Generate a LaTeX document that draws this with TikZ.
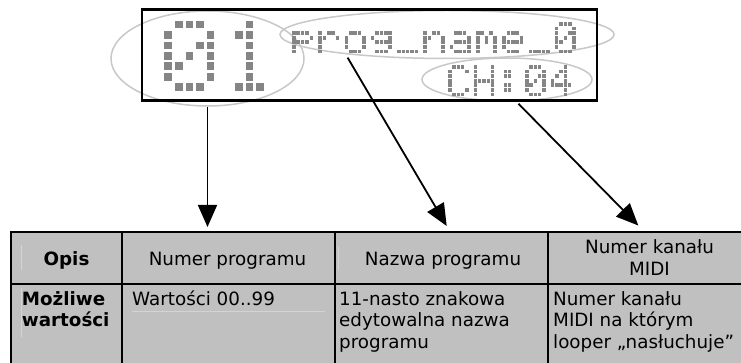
\documentclass[tikz,border=0pt]{standalone}
\usepackage{fontspec}
\setmainfont{DejaVu Sans}
\usetikzlibrary{arrows.meta,shapes.geometric}

\definecolor{cellgray}{HTML}{C0C0C0}
\definecolor{ringgray}{HTML}{C8C8C8}
\definecolor{dotgray}{HTML}{858585}
\definecolor{ghostline}{HTML}{D4D4D4}

% 5x7 dot-matrix glyphs: row/{lit columns}
\newcommand\Glyphp{2/{0,1,2,3},3/{0,4},4/{0,1,2,3},5/{0},6/{0}}
\newcommand\Glyphr{2/{0,2,3},3/{0,1,4},4/{0},5/{0},6/{0}}
\newcommand\Glypho{2/{1,2,3},3/{0,4},4/{0,4},5/{0,4},6/{1,2,3}}
\newcommand\Glyphg{2/{1,2,3,4},3/{0,4},4/{1,2,3,4},5/{4},6/{1,2,3}}
\newcommand\Glyphu{6/{0,1,2,3,4}}
\newcommand\Glyphn{2/{0,2,3},3/{0,1,4},4/{0,4},5/{0,4},6/{0,4}}
\newcommand\Glypha{2/{1,2,3},3/{4},4/{1,2,3,4},5/{0,4},6/{1,2,3,4}}
\newcommand\Glyphm{2/{0,1,3},3/{0,2,4},4/{0,2,4},5/{0,4},6/{0,4}}
\newcommand\Glyphe{2/{1,2,3},3/{0,4},4/{0,1,2,3,4},5/{0},6/{1,2,3}}
\newcommand\GlyphZ{0/{1,2,3},1/{0,4},2/{0,3,4},3/{0,2,4},4/{0,1,4},5/{0,4},6/{1,2,3}}
\newcommand\GlyphI{0/{2},1/{1,2},2/{2},3/{2},4/{2},5/{2},6/{1,2,3}}
\newcommand\GlyphC{0/{1,2,3},1/{0,4},2/{0},3/{0},4/{0},5/{0,4},6/{1,2,3}}
\newcommand\GlyphH{0/{0,4},1/{0,4},2/{0,4},3/{0,1,2,3,4},4/{0,4},5/{0,4},6/{0,4}}
\newcommand\GlyphK{1/{1,2},2/{1,2},4/{1,2},5/{1,2}}
\newcommand\GlyphF{0/{3},1/{2,3},2/{1,3},3/{0,3},4/{0,1,2,3,4},5/{3},6/{3}}

% #1,#2 top-left corner; #3,#4 dot pitch; #5,#6 dot size; #7 glyph letter
\newcommand\lcdchar[7]{%
  \edef\lcdrows{\csname Glyph#7\endcsname}%
  \foreach \lcdr/\lcdc in \lcdrows {%
    \foreach \lcdi in \lcdc {%
      \fill[dotgray] ({#1+\lcdi*#3},{#2+\lcdr*#4}) rectangle ++(#5,#6);%
    }%
  }%
}

\tikzset{
  ring/.style={ellipse, draw=ringgray, line width=1.5pt, inner sep=0pt},
  pointer/.style={draw=black, line width=1.8pt, -{Triangle[length=22pt,width=19pt]}},
  tableline/.style={draw=black, line width=1.8pt},
  ghost/.style={draw=ghostline, line width=0.9pt},
  celltext/.style={inner sep=0pt, text=black},
}

\begin{document}
\begin{tikzpicture}[x=1pt, y=-1pt, font=\fontsize{18.3}{21.5}\selectfont]
\useasboundingbox (0,0) rectangle (741,363);
\fill[white] (0,0) rectangle (741,363);
\clip (0,0) rectangle (741,363);

% highlight rings around the display fields
\node[ring, minimum width=193pt, minimum height=95pt] (e1) at (207.5,58.5) {};
\node[ring, minimum width=334pt, minimum height=48pt] (e2) at (447,34.5) {};
\node[ring, minimum width=170pt, minimum height=43pt] (e3) at (507,79.5) {};

% display frame
\node[draw=black, line width=2.7pt, minimum width=455pt, minimum height=90.5pt, inner sep=0pt] (lcd) at (369.5,55) {};

% program number, large digits
\lcdchar{164.3}{20.7}{10.6}{10.45}{7.6}{7.6}{Z}
\lcdchar{224.5}{20.7}{10.6}{10.45}{7.6}{7.6}{I}

% program name
\foreach \g [count=\k from 0] in {p,r,o,g,u,n,a,m,e,u,Z}
  {\lcdchar{292+\k*26.28}{22}{4.38}{4.6}{3.6}{3.8}{\g}}

% MIDI channel
\foreach \g [count=\k from 0] in {C,H,K,Z,F}
  {\lcdchar{448+\k*25.7}{65}{4.28}{4.6}{3.5}{3.8}{\g}}

% table
\fill[cellgray] (11,232) rectangle (770,380);
\draw[ghost] (21,245) -- (21,270);
\draw[ghost] (21,288) -- (21,337);
\draw[ghost] (132,311) -- (325,311);
\draw[ghost] (338,247) -- (338,270);
\draw[tableline] (11,380) -- (11,232) -- (770,232);
\draw[tableline] (11,284) -- (770,284);
\draw[tableline] (122,232) -- (122,380);
\draw[tableline] (335,232) -- (335,380);
\draw[tableline] (548,232) -- (548,380);

% header row
\node[celltext, anchor=base] (hOpis) at (66.5,265.5) {\bfseries Opis};
\node[celltext, anchor=base] (hNum) at (227.5,265.5) {Numer programu};
\node[celltext, anchor=base] (hNaz) at (443,265.5) {Nazwa programu};
\node[celltext, anchor=base] (hMidiA) at (649.5,254) {Numer kanału};
\node[celltext, anchor=base] (hMidiB) at (649.5,276) {MIDI};

% values row
\node[celltext, anchor=base west] (vA1) at (21.7,305) {\bfseries Możliwe};
\node[celltext, anchor=base west] (vA2) at (21.7,326.5) {\bfseries wartości};
\node[celltext, anchor=base west] (vB1) at (132,305) {Wartości 00..99};
\node[celltext, anchor=base west] (vC1) at (339,305) {11-nasto znakowa};
\node[celltext, anchor=base west] (vC2) at (339,326.5) {edytowalna nazwa};
\node[celltext, anchor=base west] (vC3) at (339,348) {programu};
\node[celltext, anchor=base west] (vD1) at (553,305) {Numer kanału};
\node[celltext, anchor=base west] (vD2) at (553,326.5) {MIDI na którym};
\node[celltext, anchor=base west] (vD3) at (553,348) {looper „nasłuchuje”};

% pointers from the display fields to their columns
\coordinate (t1) at (207.5,227);
\coordinate (t2) at (446.7,226);
\coordinate (t3) at (638.3,225.5);
\draw[pointer] (e1.south) -- (t1);
\draw[pointer, shorten <=4pt] (e2.191.4) -- (t2);
\draw[pointer, shorten <=3pt] (e3.-67.2) -- (t3);
\end{tikzpicture}
\end{document}
